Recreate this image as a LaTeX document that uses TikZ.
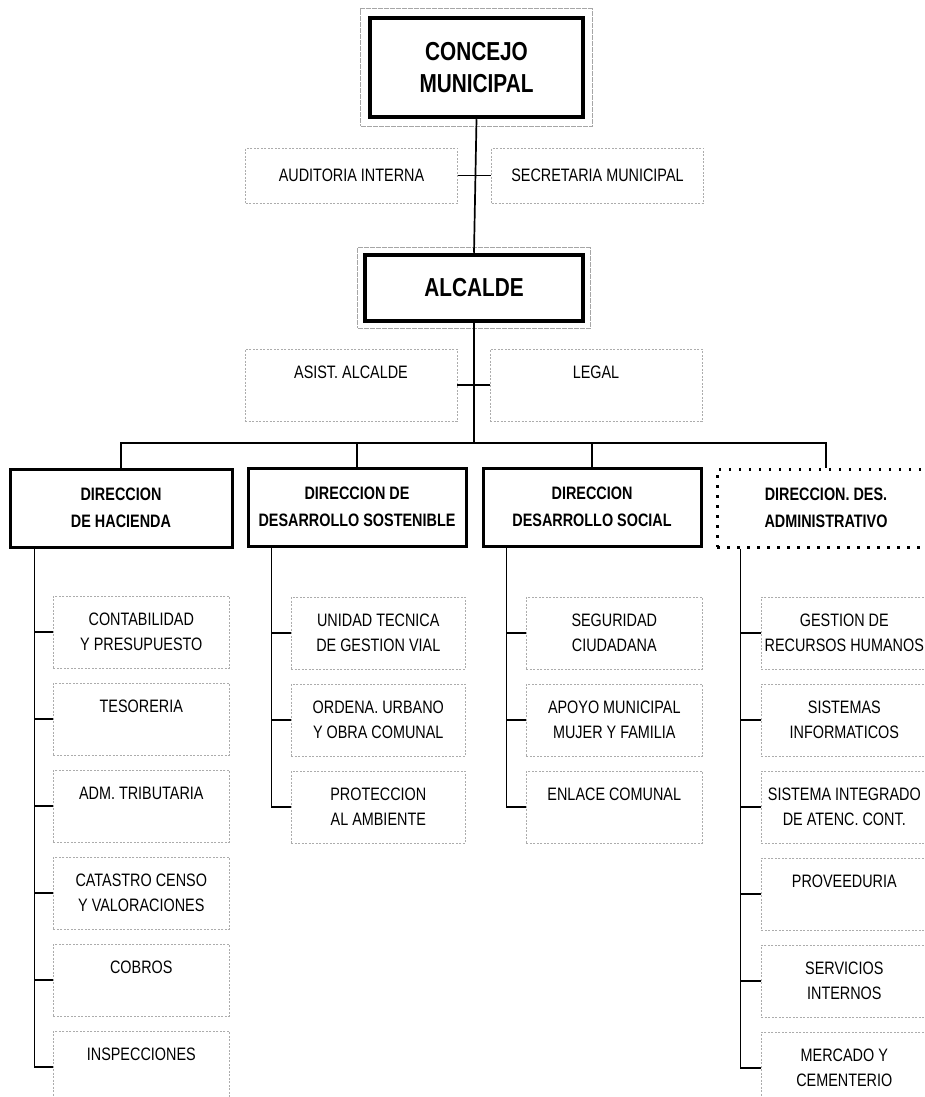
\documentclass[tikz,border=0pt]{standalone}
\usepackage{fontspec}
\setmainfont{Liberation Sans}[FakeStretch=0.8]
\usetikzlibrary{positioning,fit}
\tikzset{cabeza/.style={draw, line width=4.5pt, align=center, inner sep=0pt,
        font=\fontsize{26}{32}\selectfont\bfseries},
    marco/.style={draw=gray!70, line width=0.6pt, dash pattern=on 5pt off 1pt},
    asesor/.style={draw=gray!65, line width=0.6pt, dash pattern=on 2pt off 1.5pt,
        align=center, inner sep=0pt, minimum width=212pt,
        font=\fontsize{18}{25}\selectfont},
    unidad/.style={asesor, minimum width=176pt, minimum height=72pt, anchor=west},
    direccion/.style={draw, line width=3pt, align=center, inner sep=0pt,
        minimum width=218pt, minimum height=78pt,
        font=\fontsize{18}{27}\selectfont\bfseries},
    enlace/.style={line width=1.7pt}}

\begin{document}
\begin{tikzpicture}[x=1pt,y=-1pt]
    \useasboundingbox (0,0) rectangle (925,1097);
    \clip (0,0) rectangle (925,1097);

    % concejo y alcaldia
    \node[cabeza, minimum width=213pt, minimum height=99pt] (concejo) at (476.5,67.5) {CONCEJO\\MUNICIPAL};
    \node[marco, inner sep=7pt, fit=(concejo)] (concejomarco) {};
    \node[asesor, minimum height=55pt] (auditoria) at (351.5,175.5) {AUDITORIA INTERNA};
    \node[asesor, minimum height=55pt] (secretaria) at (597.5,175.5) {SECRETARIA MUNICIPAL};
    \node[cabeza, minimum width=218pt, minimum height=66pt] (alcalde) at (474,288) {ALCALDE};
    \node[marco, inner sep=5pt, fit=(alcalde)] (alcaldemarco) {};
    \node[asesor, minimum height=72pt] (asistente) at (351,385) {ASIST. ALCALDE\\~};
    \node[asesor, minimum height=72pt] (legal) at (596,385) {LEGAL\\~};

    \draw[enlace] (concejo.south) -- (alcalde.north);
    \draw[enlace] (auditoria.east) -- (secretaria.west);
    \draw[enlace] (asistente.east) -- (legal.west);

    % direcciones
    \node[direccion, minimum width=222pt] (hacienda) at (121,508) {DIRECCION\\DE HACIENDA};
    \node[direccion] (sostenible) at (357,507) {DIRECCION DE\\DESARROLLO SOSTENIBLE};
    \node[direccion] (social) at (592,507) {DIRECCION\\DESARROLLO SOCIAL};
    \node[direccion, dash pattern=on 2.5pt off 7.5pt] (administrativo) at (826,508) {DIRECCION. DES.\\ADMINISTRATIVO};

    \coordinate (bus) at (474,443);
    \draw[enlace] (alcalde.south) -- (bus);
    \draw[enlace] (hacienda.north) |- (bus) -| (administrativo.north);
    \draw[enlace] (sostenible.north) -- (sostenible.north |- bus);
    \draw[enlace] (social.north) -- (social.north |- bus);

    % unidades
    \foreach \txt [count=\i] in {{CONTABILIDAD\\Y PRESUPUESTO}, {TESORERIA\\~},
        {ADM. TRIBUTARIA\\~}, {CATASTRO CENSO\\Y VALORACIONES}, {COBROS\\~},
        {INSPECCIONES\\~}}
        \node[unidad] (h\i) at (53,{545+87*\i}) {\txt};
    \foreach \txt [count=\i] in {{UNIDAD TECNICA\\DE GESTION VIAL},
        {ORDENA. URBANO\\Y OBRA COMUNAL}, {PROTECCION\\AL AMBIENTE}}
        \node[unidad, minimum width=174pt] (d\i) at (291,{546+87*\i}) {\txt};
    \foreach \txt [count=\i] in {{SEGURIDAD\\CIUDADANA},
        {APOYO MUNICIPAL\\MUJER Y FAMILIA}, {ENLACE COMUNAL\\~}}
        \node[unidad] (s\i) at (526,{546+87*\i}) {\txt};
    \foreach \txt [count=\i] in {{GESTION DE\\RECURSOS HUMANOS},
        {SISTEMAS\\INFORMATICOS}, {SISTEMA INTEGRADO\\DE ATENC. CONT.},
        {PROVEEDURIA\\~}, {SERVICIOS\\INTERNOS}, {MERCADO Y\\CEMENTERIO}}
        \node[unidad, minimum width=166pt] (a\i) at (761,{546+87*\i}) {\txt};

    \draw[enlace] ([xshift=26pt]hacienda.south west) coordinate (htronco) |- (h6.west);
    \foreach \i in {1,...,5}
        \draw[enlace] (h\i.west) -- (h\i.west -| htronco);
    \draw[enlace] ([xshift=25pt]sostenible.south west) coordinate (dtronco) |- (d3.west);
    \foreach \i in {1,2}
        \draw[enlace] (d\i.west) -- (d\i.west -| dtronco);
    \draw[enlace] ([xshift=25pt]social.south west) coordinate (stronco) |- (s3.west);
    \foreach \i in {1,2}
        \draw[enlace] (s\i.west) -- (s\i.west -| stronco);
    \draw[enlace] ([xshift=25pt]administrativo.south west) coordinate (atronco) |- (a6.west);
    \foreach \i in {1,...,5}
        \draw[enlace] (a\i.west) -- (a\i.west -| atronco);
\end{tikzpicture}
\end{document}
